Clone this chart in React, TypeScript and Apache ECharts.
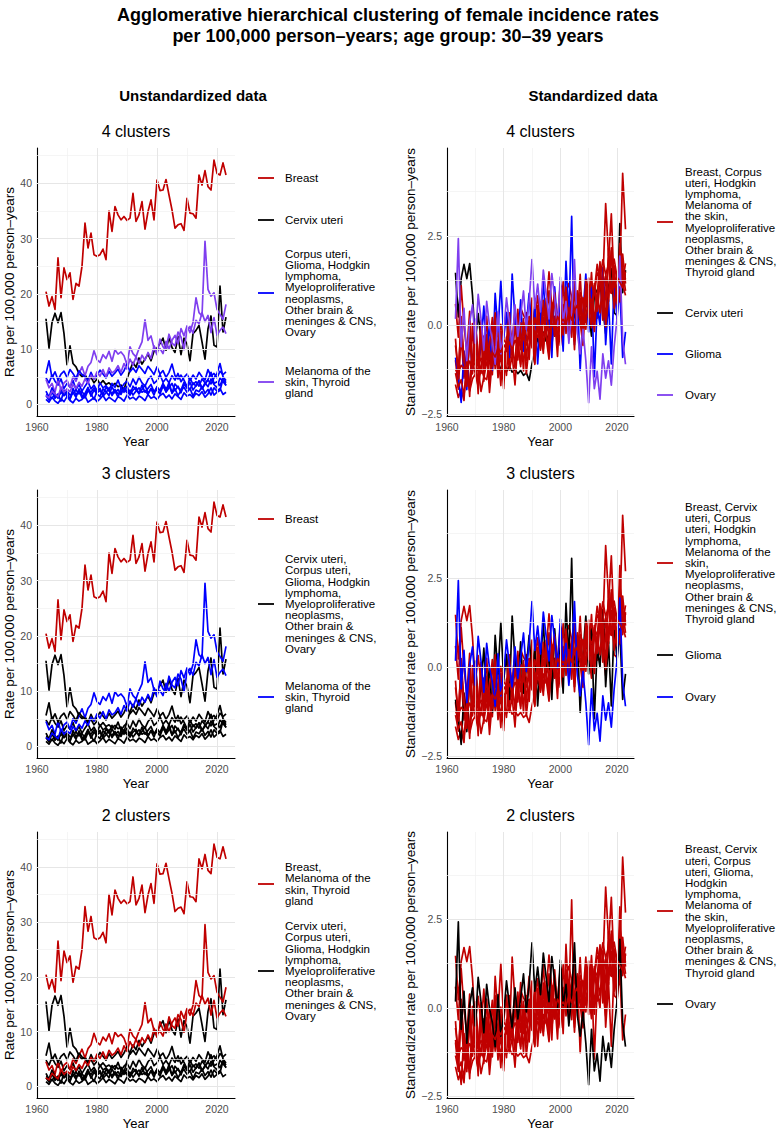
import React, { useEffect, useRef } from 'react';
import * as echarts from 'echarts';

const FONT = "'Liberation Sans', Arial, Helvetica, sans-serif";
const RED = '#C00000';
const BLACK = '#000000';
const BLUE = '#0000FF';
const PURPLE = '#7F3FEF';

// Years 1963..2023
const years: number[] = [];
for (let y = 1963; y <= 2023; y++) years.push(y);

const cancers = [
  'Breast', 'Cervix uteri', 'Corpus uteri', 'Glioma', 'Hodgkin lymphoma',
  'Melanoma of the skin', 'Myeloproliferative neoplasms',
  'Other brain & meninges & CNS', 'Ovary', 'Thyroid gland',
];

const breast = [20.4,17.8,19.5,17.2,26.5,19.3,24.7,22.6,23.8,19.0,
  21.9,21.4,25.0,32.8,28.3,31.0,27.1,26.8,27.1,28.1,
  26.2,35.0,31.3,35.8,34.3,33.4,34.0,33.3,33.7,38.2,
  33.1,34.3,36.7,31.7,34.9,37.0,33.4,40.6,38.7,38.8,
  40.7,37.9,35.2,31.9,32.5,32.7,31.5,37.3,34.6,34.5,
  33.7,41.5,39.7,42.3,39.4,38.8,44.2,41.8,41.5,43.7,
  41.5];
const cervix = [15.5,10.2,14.8,16.5,14.8,16.6,12.8,7.2,10.6,7.4,
  6.8,5.6,5.0,5.4,4.4,4.9,3.9,4.6,3.7,4.3,
  3.6,3.9,3.4,3.8,3.2,3.5,2.6,4.6,6.2,7.6,
  6.7,8.4,7.3,8.2,9.1,7.9,9.6,10.2,11.0,12.0,
  9.8,12.1,10.3,9.4,12.3,9.0,12.0,10.9,7.9,12.8,
  13.4,14.3,11.3,8.2,13.7,16.0,10.7,10.4,21.4,13.1,
  15.8];
const corpus = [1.6,0.8,2.3,1.1,1.9,0.6,2.6,1.4,1.0,2.2,
  1.3,2.8,1.7,1.2,2.5,1.9,0.9,2.4,2.9,1.5,
  2.1,3.0,1.6,2.5,1.3,2.9,2.2,3.3,1.8,2.6,
  3.1,1.9,2.7,3.5,2.0,2.8,1.7,3.2,2.4,3.6,
  2.2,3.0,3.8,2.5,3.3,2.1,3.7,2.9,4.0,2.6,
  3.4,4.3,2.8,3.9,3.2,4.6,3.6,3.0,4.8,4.1,
  3.5];
const glioma = [1.8,1.5,1.1,1.9,1.3,2.2,1.6,2.4,1.7,2.0,
  2.6,1.9,2.3,1.6,2.8,2.2,3.0,2.1,2.5,1.8,
  3.1,2.4,2.0,2.7,1.9,2.3,2.8,2.1,2.6,1.7,
  2.4,3.0,2.2,2.5,1.8,2.9,2.3,2.6,1.9,3.3,
  2.4,4.0,2.0,2.8,1.6,2.5,3.1,2.2,2.9,1.5,
  2.6,2.3,3.2,2.0,2.7,1.7,3.0,2.4,2.9,1.8,
  2.2];
const hodgkin = [4.8,3.9,5.3,4.2,3.5,4.6,2.9,3.8,3.1,4.3,
  2.7,3.6,2.4,3.3,4.1,2.8,3.5,2.5,3.9,3.0,
  3.4,2.6,3.8,3.1,4.4,2.9,3.7,4.2,3.2,4.6,
  3.6,4.9,3.9,3.3,4.5,5.1,3.8,4.3,5.4,4.0,
  4.7,3.9,5.2,4.4,5.6,4.1,4.9,5.5,4.3,5.3,
  4.6,5.8,5.0,4.4,6.3,5.1,5.6,4.8,6.0,5.4,
  5.9];
const melanoma = [4.5,3.0,3.8,2.2,4.6,2.6,3.9,4.4,3.1,5.0,
  4.2,5.6,6.8,5.2,6.9,7.6,9.7,8.1,7.6,9.0,
  8.3,9.6,7.8,9.9,9.1,9.5,8.8,7.2,10.4,9.2,
  8.6,10.1,11.3,15.3,11.6,12.4,10.2,9.0,11.8,10.4,
  10.0,12.7,11.1,10.6,13.1,12.2,9.9,13.4,14.1,12.9,
  15.2,14.6,16.6,15.0,16.1,13.0,15.7,12.5,13.4,14.0,
  12.8];
const myelo = [0.9,0.4,1.3,0.6,0.2,1.0,0.5,1.4,0.7,0.3,
  1.1,0.6,0.9,1.5,0.4,0.8,1.2,0.5,1.0,1.6,
  0.7,1.3,0.9,0.5,1.4,1.1,0.6,1.7,1.0,1.3,
  0.8,1.5,1.2,0.7,1.8,1.1,1.4,0.9,1.6,2.0,
  1.2,1.7,1.0,1.9,1.4,0.9,2.1,1.5,1.8,1.2,
  2.0,1.6,2.3,1.3,1.9,3.0,1.7,2.2,2.5,4.6,
  3.4];
const otherBrain = [2.4,1.3,3.0,1.8,1.1,2.7,1.6,2.2,0.9,2.9,
  1.7,2.5,1.2,2.0,3.1,1.5,2.6,1.9,1.4,2.8,
  2.3,1.6,3.2,2.1,2.7,1.8,3.0,2.4,1.7,3.3,
  2.6,2.0,3.5,2.2,2.9,3.6,2.3,3.1,2.5,3.8,
  2.8,3.4,2.1,3.7,3.0,2.6,4.0,3.2,2.7,3.9,
  3.3,4.2,2.9,3.6,4.5,5.8,3.8,4.1,3.4,4.7,
  3.9];
const ovary = [5.6,7.9,4.8,5.9,4.4,5.5,6.0,4.9,6.3,5.6,
  4.7,6.1,5.4,5.0,4.3,5.8,4.6,5.2,6.2,5.5,
  4.8,6.0,5.1,5.7,6.4,5.3,6.1,7.3,5.9,6.6,
  5.8,7.0,6.3,5.6,6.9,6.2,5.4,6.8,5.5,6.1,
  4.9,5.8,7.3,5.2,4.6,5.3,4.4,3.2,4.8,3.6,
  4.1,3.3,4.6,3.9,4.4,3.7,4.8,5.6,7.4,5.0,
  4.3];
const thyroid = [1.6,1.2,2.4,1.9,1.4,3.1,2.2,2.8,2.3,3.6,
  2.9,4.0,3.3,4.6,3.8,5.3,4.6,5.9,5.1,6.3,
  5.0,6.6,5.7,6.1,7.0,5.8,7.4,6.4,8.2,7.1,
  8.6,7.4,8.9,8.0,9.4,8.3,10.6,9.6,10.1,9.2,
  11.4,10.0,11.6,12.5,11.0,13.7,12.4,14.2,13.0,14.8,
  19.3,16.6,16.0,29.5,20.8,19.6,20.2,17.2,16.3,15.4,
  18.1];

const rates = [breast, cervix, corpus, glioma, hodgkin, melanoma, myelo, otherBrain, ovary, thyroid];

// cluster membership (index into each panel's colour list), same order as `cancers`
const unstd4 = [0, 1, 2, 2, 2, 3, 2, 2, 2, 3];
const unstd3 = [0, 1, 1, 1, 1, 2, 1, 1, 1, 2];
const unstd2 = [0, 1, 1, 1, 1, 0, 1, 1, 1, 0];
const std4 = [0, 1, 0, 2, 0, 0, 0, 0, 3, 0];
const std3 = [0, 0, 0, 1, 0, 0, 0, 0, 2, 0];
const std2 = [0, 0, 0, 0, 0, 0, 0, 0, 1, 0];

const xTicks = [1960, 1980, 2000, 2020];
const yTicksRaw = [0, 10, 20, 30, 40];
const yTicksStd = [-2.5, 0, 2.5];

function zscore(a: number[]): number[] {
  const n = a.length;
  const m = a.reduce((s, v) => s + v, 0) / n;
  const sd = Math.sqrt(a.reduce((s, v) => s + (v - m) * (v - m), 0) / (n - 1));
  return a.map((v) => (v - m) / sd);
}

const stdRates = rates.map(zscore);

type Leg = { text: string; y: number };
type Panel = {
  row: number; col: number; std: boolean; clusters: number[]; colors: string[];
  title: string; legend: Leg[];
};

const panels: Panel[] = [
  { row: 0, col: 0, std: false, clusters: unstd4, colors: [RED, BLACK, BLUE, PURPLE], title: '4 clusters',
    legend: [
      { text: 'Breast', y: 178 },
      { text: 'Cervix uteri', y: 220 },
      { text: 'Corpus uteri,\nGlioma, Hodgkin\nlymphoma,\nMyeloproliferative\nneoplasms,\nOther brain &\nmeninges & CNS,\nOvary', y: 293 },
      { text: 'Melanoma of the\nskin, Thyroid\ngland', y: 382 },
    ] },
  { row: 0, col: 1, std: true, clusters: std4, colors: [RED, BLACK, BLUE, PURPLE], title: '4 clusters',
    legend: [
      { text: 'Breast, Corpus\nuteri, Hodgkin\nlymphoma,\nMelanoma of\nthe skin,\nMyeloproliferative\nneoplasms,\nOther brain &\nmeninges & CNS,\nThyroid gland', y: 222 },
      { text: 'Cervix uteri', y: 313 },
      { text: 'Glioma', y: 354 },
      { text: 'Ovary', y: 395 },
    ] },
  { row: 1, col: 0, std: false, clusters: unstd3, colors: [RED, BLACK, BLUE], title: '3 clusters',
    legend: [
      { text: 'Breast', y: 519 },
      { text: 'Cervix uteri,\nCorpus uteri,\nGlioma, Hodgkin\nlymphoma,\nMyeloproliferative\nneoplasms,\nOther brain &\nmeninges & CNS,\nOvary', y: 604 },
      { text: 'Melanoma of the\nskin, Thyroid\ngland', y: 697 },
    ] },
  { row: 1, col: 1, std: true, clusters: std3, colors: [RED, BLACK, BLUE], title: '3 clusters',
    legend: [
      { text: 'Breast, Cervix\nuteri, Corpus\nuteri, Hodgkin\nlymphoma,\nMelanoma of the\nskin,\nMyeloproliferative\nneoplasms,\nOther brain &\nmeninges & CNS,\nThyroid gland', y: 563 },
      { text: 'Glioma', y: 655 },
      { text: 'Ovary', y: 697 },
    ] },
  { row: 2, col: 0, std: false, clusters: unstd2, colors: [RED, BLACK], title: '2 clusters',
    legend: [
      { text: 'Breast,\nMelanoma of the\nskin, Thyroid\ngland', y: 884 },
      { text: 'Cervix uteri,\nCorpus uteri,\nGlioma, Hodgkin\nlymphoma,\nMyeloproliferative\nneoplasms,\nOther brain &\nmeninges & CNS,\nOvary', y: 971 },
    ] },
  { row: 2, col: 1, std: true, clusters: std2, colors: [RED, BLACK], title: '2 clusters',
    legend: [
      { text: 'Breast, Cervix\nuteri, Corpus\nuteri, Glioma,\nHodgkin\nlymphoma,\nMelanoma of\nthe skin,\nMyeloproliferative\nneoplasms,\nOther brain &\nmeninges & CNS,\nThyroid gland', y: 911 },
      { text: 'Ovary', y: 1004 },
    ] },
];

const ROW_PITCH = 342;
const GRID_TOP = 148;
const GRID_H = 268;
const COLS = [
  { left: 37, width: 198, keyX: 258, textX: 285 },
  { left: 447, width: 187, keyX: 657, textX: 685 },
];

function fmtStd(v: number): string {
  const s = Math.abs(v).toFixed(1);
  return v < 0 ? '\u2212' + s : s;
}

function buildOption() {
  const grid: any[] = [];
  const xAxis: any[] = [];
  const yAxis: any[] = [];
  const series: any[] = [];
  const graphic: any[] = [];

  graphic.push(
    { type: 'text', x: 388, y: 15, style: { text: 'Agglomerative hierarchical clustering of female incidence rates', font: `bold 18px ${FONT}`, fill: '#000', align: 'center', verticalAlign: 'middle' } },
    { type: 'text', x: 388, y: 36, style: { text: 'per 100,000 person\u2013years; age group: 30\u201339 years', font: `bold 18px ${FONT}`, fill: '#000', align: 'center', verticalAlign: 'middle' } },
    { type: 'text', x: 193, y: 95, style: { text: 'Unstandardized data', font: `bold 15px ${FONT}`, fill: '#000', align: 'center', verticalAlign: 'middle' } },
    { type: 'text', x: 593, y: 95, style: { text: 'Standardized data', font: `bold 15px ${FONT}`, fill: '#000', align: 'center', verticalAlign: 'middle' } },
  );

  panels.forEach((p, i) => {
    const col = COLS[p.col];
    const top = GRID_TOP + p.row * ROW_PITCH;
    grid.push({ left: col.left, top, width: col.width, height: GRID_H, containLabel: false });

    graphic.push({
      type: 'text', x: col.left + col.width / 2, y: top - 17,
      style: { text: p.title, font: `16px ${FONT}`, fill: '#000', align: 'center', verticalAlign: 'middle' },
    });

    xAxis.push({
      gridIndex: i, type: 'value', min: 1960, max: 2026,
      axisLine: { show: true, onZero: false, lineStyle: { color: '#000', width: 1.1 } },
      axisTick: { show: false },
      splitLine: { show: false },
      axisLabel: { customValues: xTicks, color: '#4D4D4D', fontSize: 10.5, fontFamily: FONT, margin: 5, formatter: (v: number) => String(v) },
      name: 'Year', nameLocation: 'middle', nameGap: 19,
      nameTextStyle: { fontSize: 13, color: '#000', fontFamily: FONT },
    });

    yAxis.push({
      gridIndex: i, type: 'value',
      min: p.std ? -2.55 : -2.1, max: p.std ? 4.97 : 46.4,
      axisLine: { show: true, onZero: false, lineStyle: { color: '#000', width: 1.1 } },
      axisTick: { show: false },
      splitLine: { show: false },
      axisLabel: {
        customValues: p.std ? yTicksStd : yTicksRaw, color: '#4D4D4D', fontSize: 10.5, fontFamily: FONT, margin: 5,
        formatter: (v: number) => (p.std ? fmtStd(v) : String(v)),
      },
      name: p.std ? 'Standardized rate per 100,000 person\u2013years' : 'Rate per 100,000 person\u2013years',
      nameLocation: 'middle', nameGap: p.std ? 26 : 20,
      nameTextStyle: { fontSize: 13.5, color: '#000', fontFamily: FONT },
    });

    // grid lines (major + minor)
    const hMajor = p.std ? [-2.5, 0, 2.5] : [0, 10, 20, 30, 40];
    const hMinor = p.std ? [-1.25, 1.25, 3.75] : [5, 15, 25, 35, 45];
    const vMajor = [1980, 2000, 2020];
    const vMinor = [1970, 1990, 2010];
    const major = { color: '#E6E6E6', width: 1, type: 'solid' };
    const minor = { color: '#F0F0F0', width: 0.7, type: 'solid' };
    series.push({
      type: 'line', xAxisIndex: i, yAxisIndex: i, data: [], z: 1, silent: true,
      markLine: {
        silent: true, symbol: ['none', 'none'], label: { show: false }, animation: false,
        emphasis: { disabled: true },
        data: [
          ...hMinor.map((v) => ({ yAxis: v, lineStyle: minor })),
          ...vMinor.map((v) => ({ xAxis: v, lineStyle: minor })),
          ...hMajor.map((v) => ({ yAxis: v, lineStyle: major })),
          ...vMajor.map((v) => ({ xAxis: v, lineStyle: major })),
        ],
      },
    });

    const src = p.std ? stdRates : rates;
    cancers.forEach((name, k) => {
      const color = p.colors[p.clusters[k]];
      series.push({
        name: name, type: 'line', xAxisIndex: i, yAxisIndex: i, z: 3,
        showSymbol: false, symbol: 'none', silent: true,
        data: years.map((yr, j) => [yr, src[k][j]]),
        lineStyle: { color, width: 1.7, join: 'round' },
        itemStyle: { color },
        emphasis: { disabled: true },
      });
    });

    // legend
    p.legend.forEach((lg, k) => {
      const color = p.colors[k];
      graphic.push({
        type: 'line', shape: { x1: col.keyX, y1: lg.y, x2: col.keyX + 16, y2: lg.y },
        style: { stroke: color, lineWidth: 1.8 },
      });
      graphic.push({
        type: 'text', x: col.textX, y: lg.y,
        style: { text: lg.text, font: `11.5px ${FONT}`, fill: '#000', align: 'left', verticalAlign: 'middle', lineHeight: 11.2 },
      });
    });
  });

  return {
    animation: false,
    backgroundColor: '#FFFFFF',
    textStyle: { fontFamily: FONT },
    grid, xAxis, yAxis, series, graphic,
  };
}

export default function App() {
  const ref = useRef<HTMLDivElement>(null);
  useEffect(() => {
    if (!ref.current) return;
    const chart = echarts.init(ref.current, null, { renderer: 'svg', width: 777, height: 1131 });
    chart.setOption(buildOption() as any);
    return () => chart.dispose();
  }, []);
  return <div ref={ref} style={{ position: 'absolute', left: 0, top: 0, width: 777, height: 1131 }} />;
}
